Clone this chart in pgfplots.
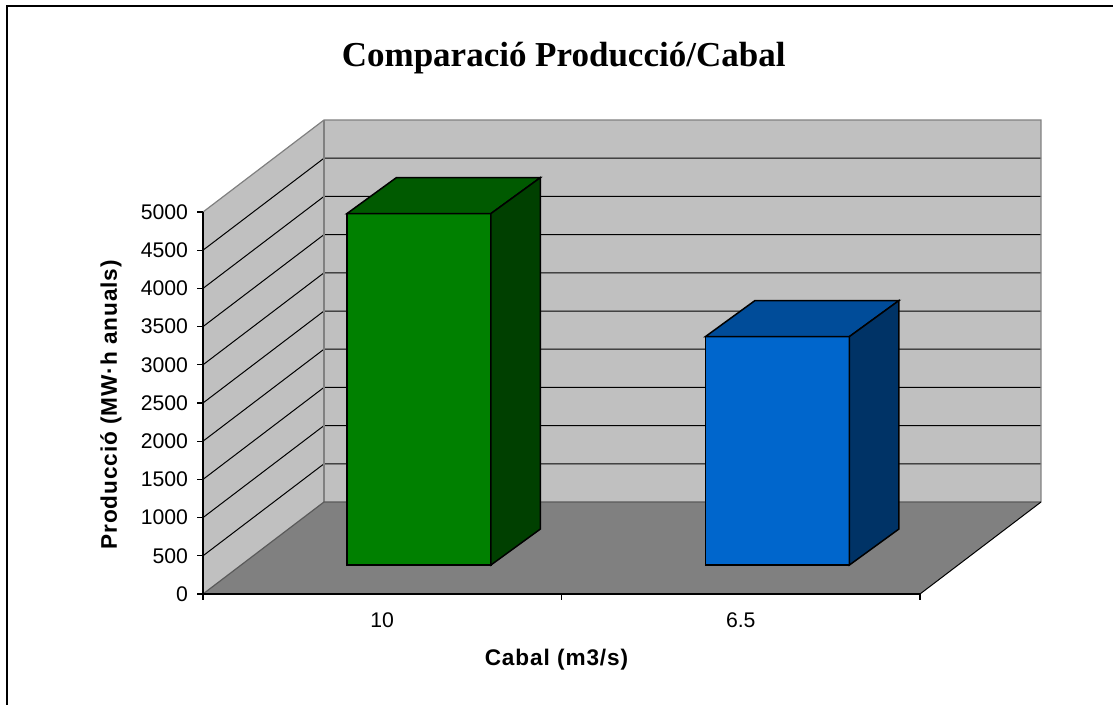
\documentclass[border=0pt]{standalone}
\usepackage{pgfplots}
\pgfplotsset{compat=1.18}
\usepackage{fontspec}
\setmainfont{Liberation Sans}
\newfontfamily\titlefont{Liberation Serif}
\definecolor{wallc}{HTML}{C0C0C0}
\definecolor{floorc}{HTML}{808080}
\definecolor{edgec}{HTML}{808080}
\definecolor{gfront}{HTML}{008000}
\definecolor{gtop}{HTML}{005A00}
\definecolor{gside}{HTML}{004000}
\definecolor{bfront}{HTML}{0066CC}
\definecolor{btop}{HTML}{004C99}
\definecolor{bside}{HTML}{003366}
\begin{document}
\begin{tikzpicture}
\useasboundingbox (0,0) rectangle (556.5pt,352.5pt);
\draw[line width=1pt] (3.5pt,0) -- (3.5pt,349.5pt) -- (556.5pt,349.5pt);
\begin{axis}[
  at={(101.5pt,55.5pt)}, anchor=south west,
  scale only axis, width=358.5pt, height=191pt,
  xmin=0, xmax=2, ymin=0, ymax=5000,
  clip=false, axis on top,
  axis x line=bottom, axis y line=left,
  axis line style={-, line width=0.8pt},
  xtick={0,1,2}, xticklabels={10,6.5}, x tick label as interval,
  ytick={0,500,...,5000},
  tick align=outside, major tick length=3pt,
  tick style={black, line width=0.6pt},
  scaled y ticks=false,
  /pgf/number format/1000 sep={},
  /pgf/number format/assume math mode=true,
  ticklabel style={font=\fontsize{10.6}{12}\selectfont},
  xticklabel style={yshift=-3pt},
  yticklabel style={xshift=-1pt},
  xlabel={Cabal (m3/s)},
  xlabel style={font=\bfseries\fontsize{11.3}{13}\selectfont\addfontfeature{LetterSpace=4}, at={(axis description cs:0.493,0)}, anchor=center, yshift=-33pt},
  ylabel={Producció (MW·h anuals)},
  ylabel style={font=\bfseries\fontsize{11.3}{13}\selectfont\addfontfeature{LetterSpace=4}, at={(axis description cs:0,0.495)}, anchor=center, yshift=46pt},
  title={Comparació Producció/Cabal},
  title style={font=\titlefont\bfseries\fontsize{17.5}{20}\selectfont, at={(axis description cs:0.503,1)}, anchor=center, yshift=71pt},
]
% floor and walls
\addplot[fill=floorc, draw=none] coordinates {(0,0) (2,0) (2.3375,1204) (0.3375,1204)} -- cycle;
\addplot[fill=wallc, draw=none] coordinates {(0,0) (0.3375,1204) (0.3375,6204) (0,5000)} -- cycle;
\addplot[fill=wallc, draw=none] coordinates {(0.3375,1204) (2.3375,1204) (2.3375,6204) (0.3375,6204)} -- cycle;
% gridlines
\addplot[black, line width=0.5pt] coordinates {(0,500) (0.3375,1704) (2.3375,1704)};
\addplot[black, line width=0.5pt] coordinates {(0,1000) (0.3375,2204) (2.3375,2204)};
\addplot[black, line width=0.5pt] coordinates {(0,1500) (0.3375,2704) (2.3375,2704)};
\addplot[black, line width=0.5pt] coordinates {(0,2000) (0.3375,3204) (2.3375,3204)};
\addplot[black, line width=0.5pt] coordinates {(0,2500) (0.3375,3704) (2.3375,3704)};
\addplot[black, line width=0.5pt] coordinates {(0,3000) (0.3375,4204) (2.3375,4204)};
\addplot[black, line width=0.5pt] coordinates {(0,3500) (0.3375,4704) (2.3375,4704)};
\addplot[black, line width=0.5pt] coordinates {(0,4000) (0.3375,5204) (2.3375,5204)};
\addplot[black, line width=0.5pt] coordinates {(0,4500) (0.3375,5704) (2.3375,5704)};
% wall edges
\addplot[edgec, line width=0.6pt] coordinates {(0,5000) (0.3375,6204) (2.3375,6204) (2.3375,1204)};
\addplot[edgec, line width=0.6pt] coordinates {(0.3375,1204) (0.3375,6204)};
\addplot[edgec!70!black, line width=0.6pt] coordinates {(0,0) (0.3375,1204) (2.3375,1204)};
\addplot[black, line width=0.5pt] coordinates {(2,0) (2.3375,1204)};
% bar 1 (10 m3/s): 4600
\addplot[fill=gfront, draw=black, line width=0.75pt] coordinates {(0.4017,380) (0.8033,380) (0.8033,4980) (0.4017,4980)} -- cycle;
\addplot[fill=gtop, draw=black, line width=0.75pt] coordinates {(0.4017,4980) (0.8033,4980) (0.9413,5451) (0.5397,5451)} -- cycle;
\addplot[fill=gside, draw=black, line width=0.75pt] coordinates {(0.8033,380) (0.9413,851) (0.9413,5451) (0.8033,4980)} -- cycle;
% bar 2 (6.5 m3/s): 2990
\addplot[fill=bfront, draw=black, line width=0.75pt] coordinates {(1.4017,380) (1.8033,380) (1.8033,3370) (1.4017,3370)} -- cycle;
\addplot[fill=btop, draw=black, line width=0.75pt] coordinates {(1.4017,3370) (1.8033,3370) (1.9413,3841) (1.5397,3841)} -- cycle;
\addplot[fill=bside, draw=black, line width=0.75pt] coordinates {(1.8033,380) (1.9413,851) (1.9413,3841) (1.8033,3370)} -- cycle;
\end{axis}
\end{tikzpicture}
\end{document}
